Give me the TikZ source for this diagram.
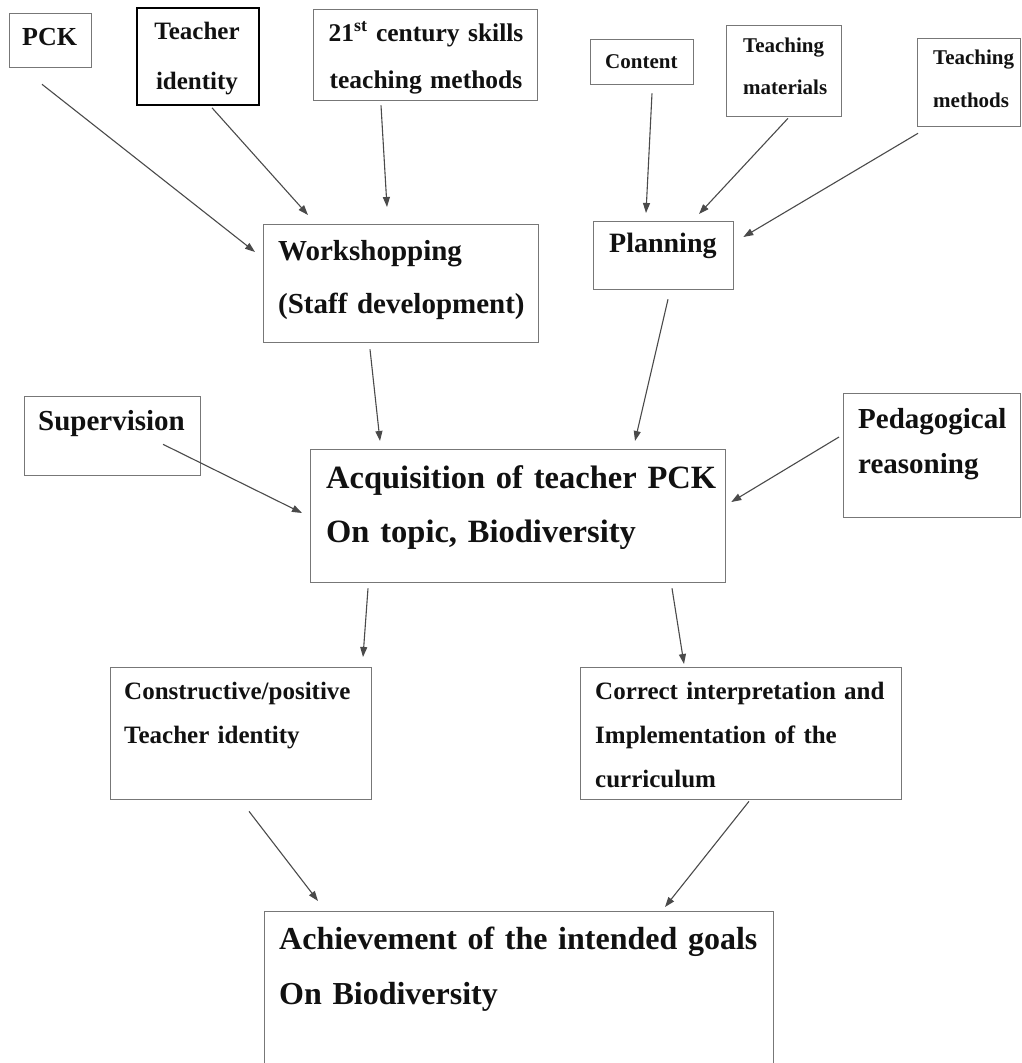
\documentclass[tikz,border=0pt]{standalone}
\usepackage{fontspec}
\setmainfont{Liberation Serif}
\usetikzlibrary{arrows.meta}

\definecolor{boxgray}{HTML}{777777}
\definecolor{linegray}{HTML}{4A4A4A}
\definecolor{txtcol}{HTML}{111111}

\tikzset{
  box/.style={draw=boxgray, line width=1.3pt, anchor=north west, inner sep=0pt},
  txt/.style={anchor=base west, inner sep=0pt, align=left, text width=560pt, text=txtcol},
  arr/.style={draw=linegray, line width=1.1pt, -{Triangle[length=10pt,width=7pt]}},
}

\newcommand{\fs}[2]{\fontsize{#1}{#2}\selectfont\bfseries}

\begin{document}
\begin{tikzpicture}[x=1pt, y=-1pt]
  \useasboundingbox (0,0) rectangle (1022,1063);

  % top row
  \node[box, minimum width=82, minimum height=54] (pck) at (9,13) {};
  \node[box, minimum width=122, minimum height=97, draw=black, line width=1.8pt] (tid) at (136,7) {};
  \node[box, minimum width=224, minimum height=91] (skills) at (313,9) {};
  \node[box, minimum width=103, minimum height=45] (content) at (590,39) {};
  \node[box, minimum width=115, minimum height=91] (tmat) at (726,25) {};
  \node[box, minimum width=103, minimum height=88] (tmeth) at (917,38) {};

  \node[txt, font=\fs{26}{47}] (pcktxt) at (22,45) {PCK};
  \node[txt, anchor=base, align=center, text width=122pt, font=\fs{25}{50}] (tidtxt) at (197,39) {Teacher\\identity};
  \node[txt, anchor=base, align=center, text width=224pt, font=\fs{25.5}{47}] (skillstxt) at (426,41) {21\textsuperscript{st} century skills\\teaching methods};
  \node[txt, font=\fs{21}{42}] (contenttxt) at (605,68) {Content};
  \node[txt, font=\fs{21}{42}] (tmattxt) at (743,52) {Teaching\\materials};
  \node[txt, font=\fs{21}{43}] (tmethtxt) at (933,64) {Teaching\\methods};

  % second row
  \node[box, minimum width=275, minimum height=118] (work) at (263,224) {};
  \node[box, minimum width=140, minimum height=68] (plan) at (593,221) {};

  \node[txt, font=\fs{29}{53}] (worktxt) at (278,260) {Workshopping\\(Staff development)};
  \node[txt, font=\fs{28}{50}] (plantxt) at (609,252) {Planning};

  % middle row
  \node[box, minimum width=176, minimum height=79] (sup) at (24,396) {};
  \node[box, minimum width=415, minimum height=133] (acq) at (310,449) {};
  \node[box, minimum width=177, minimum height=124] (ped) at (843,393) {};

  \node[txt, font=\fs{29}{50}] (suptxt) at (38,430) {Supervision};
  \node[txt, font=\fs{32.5}{54}] (acqtxt) at (326,488) {Acquisition of teacher PCK\\On topic, Biodiversity};
  \node[txt, font=\fs{29}{45}] (pedtxt) at (858,428) {Pedagogical\\reasoning};

  % outcomes
  \node[box, minimum width=261, minimum height=132] (cons) at (110,667) {};
  \node[box, minimum width=321, minimum height=132] (corr) at (580,667) {};
  \node[box, minimum width=509, minimum height=200] (goal) at (264,911) {};

  \node[txt, font=\fs{25}{44}] (constxt) at (124,699) {Constructive/positive\\Teacher identity};
  \node[txt, font=\fs{25}{44}] (corrtxt) at (595,699) {Correct interpretation and\\Implementation of the\\curriculum};
  \node[txt, font=\fs{32}{55}] (goaltxt) at (279,949) {Achievement of the intended goals\\On Biodiversity};

  % connectors
  \draw[arr] ([shift={(33,16)}]pck.south west) -- ([shift={(-8,28)}]work.north west);
  \draw[arr] ([shift={(76,2)}]tid.south west) -- ([shift={(45,-9)}]work.north west);
  \draw[arr] ([shift={(68,4)}]skills.south west) -- ([shift={(124,-17)}]work.north west);
  \draw[arr] ([shift={(62,8)}]content.south west) -- ([shift={(53,-8)}]plan.north west);
  \draw[arr] ([shift={(62,1)}]tmat.south west) -- ([shift={(106,-7)}]plan.north west);
  \draw[arr] ([shift={(1,6)}]tmeth.south west) -- ([shift={(9,16)}]plan.north east);
  \draw[arr] ([shift={(107,6)}]work.south west) -- ([shift={(70,-8)}]acq.north west);
  \draw[arr] ([shift={(75,9)}]plan.south west) -- ([shift={(325,-8)}]acq.north west);
  \draw[arr] ([shift={(139,-32)}]sup.south west) -- ([shift={(-8,64)}]acq.north west);
  \draw[arr] ([shift={(-4,44)}]ped.north west) -- ([shift={(5,53)}]acq.north east);
  \draw[arr] ([shift={(58,5)}]acq.south west) -- ([shift={(253,-10)}]cons.north west);
  \draw[arr] ([shift={(362,5)}]acq.south west) -- ([shift={(104,-3)}]corr.north west);
  \draw[arr] ([shift={(139,11)}]cons.south west) -- ([shift={(54,-10)}]goal.north west);
  \draw[arr] ([shift={(169,1)}]corr.south west) -- ([shift={(401,-4)}]goal.north west);
\end{tikzpicture}
\end{document}
